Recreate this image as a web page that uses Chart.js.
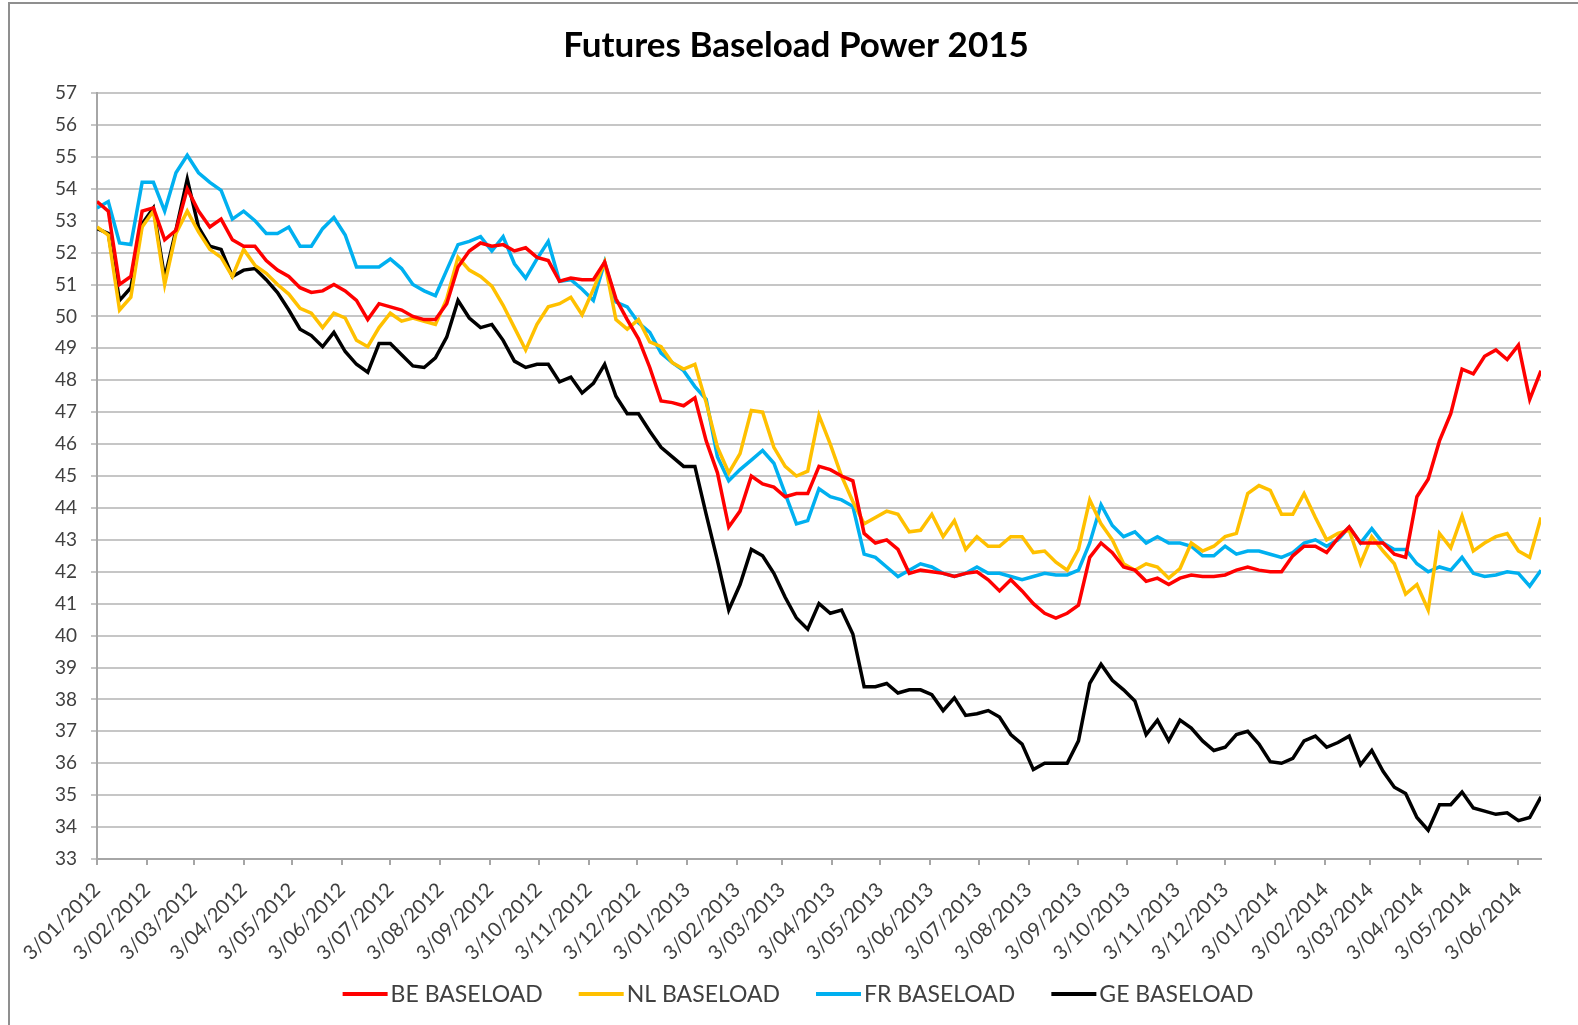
<!DOCTYPE html>
<html>
<head>
<meta charset="utf-8">
<title>Futures Baseload Power 2015</title>
<script src="https://cdn.jsdelivr.net/npm/chart.js@4.4.1/dist/chart.umd.min.js"></script>
<style>
    html, body { margin: 0; padding: 0; background: #ffffff; }
    #wrap { width: 1578px; height: 1025px; }
</style>
</head>
<body>
<div id="wrap"><canvas id="powerChart" width="1578" height="1025"></canvas></div>
<script>
// weekly readings, first one on 3 Jan 2012
const startDate = '2012-01-03';
const stepDays = 7;

const tickLabels = [
    '3/01/2012', '3/02/2012', '3/03/2012', '3/04/2012', '3/05/2012', '3/06/2012',
    '3/07/2012', '3/08/2012', '3/09/2012', '3/10/2012', '3/11/2012', '3/12/2012',
    '3/01/2013', '3/02/2013', '3/03/2013', '3/04/2013', '3/05/2013', '3/06/2013',
    '3/07/2013', '3/08/2013', '3/09/2013', '3/10/2013', '3/11/2013', '3/12/2013',
    '3/01/2014', '3/02/2014', '3/03/2014', '3/04/2014', '3/05/2014', '3/06/2014'
];

const seriesNames = ['BE BASELOAD', 'NL BASELOAD', 'FR BASELOAD', 'GE BASELOAD'];
const seriesColors = ['#ff0000', '#ffc000', '#00b0f0', '#000000'];

const beValues = [
    53.6, 53.3, 51.0, 51.25, 53.3, 53.4, 52.4, 52.7, 54.0, 53.3,
    52.8, 53.05, 52.4, 52.2, 52.2, 51.75, 51.45, 51.25, 50.9, 50.75,
    50.8, 51.0, 50.8, 50.5, 49.9, 50.4, 50.3, 50.2, 50.0, 49.9,
    49.9, 50.4, 51.55, 52.05, 52.3, 52.2, 52.25, 52.05, 52.15, 51.85,
    51.75, 51.1, 51.2, 51.15, 51.15, 51.7, 50.55, 49.9, 49.3, 48.4,
    47.35, 47.3, 47.2, 47.45, 46.1, 45.1, 43.4, 43.9, 45.0, 44.75,
    44.65, 44.35, 44.45, 44.45, 45.3, 45.2, 45.0, 44.85, 43.2, 42.9,
    43.0, 42.7, 41.95, 42.05, 42.0, 41.95, 41.85, 41.95, 42.0, 41.75,
    41.4, 41.75, 41.4, 41.0, 40.7, 40.55, 40.7, 40.95, 42.45, 42.9,
    42.6, 42.15, 42.05, 41.7, 41.8, 41.6, 41.8, 41.9, 41.85, 41.85,
    41.9, 42.05, 42.15, 42.05, 42.0, 42.0, 42.5, 42.8, 42.8, 42.6,
    43.05, 43.4, 42.9, 42.9, 42.9, 42.55, 42.45, 44.35, 44.9, 46.1,
    46.95, 48.35, 48.2, 48.75, 48.95, 48.65, 49.1, 47.4, 48.3
];

const nlValues = [
    52.8, 52.55, 50.2, 50.6, 52.8, 53.3, 51.0, 52.6, 53.3, 52.65,
    52.1, 51.85, 51.25, 52.1, 51.6, 51.35, 51.0, 50.7, 50.25, 50.1,
    49.65, 50.1, 49.95, 49.25, 49.05, 49.65, 50.1, 49.85, 49.95, 49.85,
    49.75, 50.55, 51.85, 51.45, 51.25, 50.95, 50.35, 49.65, 48.95, 49.75,
    50.3, 50.4, 50.6, 50.05, 50.85, 51.7, 49.9, 49.6, 49.9, 49.2,
    49.05, 48.55, 48.35, 48.5, 47.3, 45.9, 45.1, 45.7, 47.05, 47.0,
    45.9, 45.3, 45.0, 45.15, 46.9, 46.0, 45.0, 44.2, 43.5, 43.7,
    43.9, 43.8, 43.25, 43.3, 43.8, 43.1, 43.6, 42.7, 43.1, 42.8,
    42.8, 43.1, 43.1, 42.6, 42.65, 42.3, 42.05, 42.7, 44.25, 43.5,
    43.0, 42.25, 42.05, 42.25, 42.15, 41.8, 42.1, 42.9, 42.65, 42.8,
    43.1, 43.2, 44.45, 44.7, 44.55, 43.8, 43.8, 44.45, 43.7, 43.0,
    43.2, 43.3, 42.25, 43.1, 42.65, 42.25, 41.3, 41.6, 40.8, 43.2,
    42.75, 43.75, 42.65, 42.9, 43.1, 43.2, 42.65, 42.45, 43.7
];

const frValues = [
    53.4, 53.6, 52.3, 52.25, 54.2, 54.2, 53.3, 54.5, 55.05, 54.5,
    54.2, 53.95, 53.05, 53.3, 53.0, 52.6, 52.6, 52.8, 52.2, 52.2,
    52.75, 53.1, 52.55, 51.55, 51.55, 51.55, 51.8, 51.5, 51.0, 50.8,
    50.65, 51.45, 52.25, 52.35, 52.5, 52.05, 52.5, 51.65, 51.2, 51.8,
    52.35, 51.1, 51.15, 50.85, 50.5, 51.7, 50.45, 50.3, 49.8, 49.5,
    48.85, 48.55, 48.3, 47.8, 47.4, 45.6, 44.85, 45.2, 45.5, 45.8,
    45.4, 44.45, 43.5, 43.6, 44.6, 44.35, 44.25, 44.05, 42.55, 42.45,
    42.15, 41.85, 42.05, 42.25, 42.15, 41.95, 41.85, 41.95, 42.15, 41.95,
    41.95, 41.85, 41.75, 41.85, 41.95, 41.9, 41.9, 42.05, 42.9, 44.1,
    43.45, 43.1, 43.25, 42.9, 43.1, 42.9, 42.9, 42.8, 42.5, 42.5,
    42.8, 42.55, 42.65, 42.65, 42.55, 42.45, 42.6, 42.9, 43.0, 42.8,
    43.0, 43.4, 42.9, 43.35, 42.9, 42.7, 42.7, 42.25, 42.0, 42.15,
    42.05, 42.45, 41.95, 41.85, 41.9, 42.0, 41.95, 41.55, 42.05
];

const geValues = [
    52.75, 52.6, 50.5, 50.9, 52.9, 53.4, 51.2, 52.7, 54.3, 52.8,
    52.2, 52.1, 51.25, 51.45, 51.5, 51.15, 50.75, 50.2, 49.6, 49.4,
    49.05, 49.5, 48.9, 48.5, 48.25, 49.15, 49.15, 48.8, 48.45, 48.4,
    48.7, 49.35, 50.5, 49.95, 49.65, 49.75, 49.25, 48.6, 48.4, 48.5,
    48.5, 47.95, 48.1, 47.6, 47.9, 48.5, 47.5, 46.95, 46.95, 46.4,
    45.9, 45.6, 45.3, 45.3, 43.8, 42.35, 40.8, 41.6, 42.7, 42.5,
    41.95, 41.2, 40.55, 40.2, 41.0, 40.7, 40.8, 40.05, 38.4, 38.4,
    38.5, 38.2, 38.3, 38.3, 38.15, 37.65, 38.05, 37.5, 37.55, 37.65,
    37.45, 36.9, 36.6, 35.8, 36.0, 36.0, 36.0, 36.7, 38.5, 39.1,
    38.6, 38.3, 37.95, 36.9, 37.35, 36.7, 37.35, 37.1, 36.7, 36.4,
    36.5, 36.9, 37.0, 36.6, 36.05, 36.0, 36.15, 36.7, 36.85, 36.5,
    36.65, 36.85, 35.95, 36.4, 35.75, 35.25, 35.05, 34.3, 33.9, 34.7,
    34.7, 35.1, 34.6, 34.5, 34.4, 34.45, 34.2, 34.3, 34.95
];

const allValues = [beValues, nlValues, frValues, geValues];

document.addEventListener('DOMContentLoaded', () => {
    const dayMs = 24 * 60 * 60 * 1000;
    const start = new Date(startDate + 'T00:00:00Z').getTime();

    // '3/05/2013' -> days since startDate
    const labelToDay = (label) => {
        const [d, m, y] = label.split('/').map(Number);
        return Math.round((Date.UTC(y, m - 1, d) - start) / dayMs);
    };
    const tickDays = tickLabels.map(labelToDay);
    const lastDay = (beValues.length - 1) * stepDays;

    const datasets = allValues.map((values, k) => ({
        label: seriesNames[k],
        data: values.map((v, i) => ({ x: i * stepDays, y: v })),
        borderColor: seriesColors[k],
        backgroundColor: seriesColors[k],
        borderWidth: 3.5,
        pointRadius: 0,
        tension: 0,
        fill: false
    }));

    const framePlugin = {
        id: 'frame',
        beforeDraw: (chart) => {
            const ctx = chart.ctx;
            ctx.save();
            ctx.fillStyle = '#ffffff';
            ctx.fillRect(0, 0, chart.width, chart.height);
            ctx.strokeStyle = '#8f8f8f';
            ctx.lineWidth = 2;
            ctx.beginPath();
            ctx.moveTo(9, chart.height);
            ctx.lineTo(9, 3);
            ctx.lineTo(chart.width, 3);
            ctx.stroke();
            ctx.restore();
        },
        afterDraw: (chart) => {
            const ctx = chart.ctx;
            ctx.save();
            // title
            ctx.fillStyle = '#000000';
            ctx.font = 'bold 35px Lato';
            ctx.textAlign = 'center';
            ctx.textBaseline = 'alphabetic';
            ctx.fillText('Futures Baseload Power 2015', 796, 57);

            // legend
            const lineLen = 45;
            const gap = 3;
            const spacing = 36;
            const legendY = 994;
            ctx.font = '23px Lato';
            const items = chart.data.datasets.map(ds => ({
                text: ds.label,
                color: ds.borderColor,
                width: lineLen + gap + ctx.measureText(ds.label).width
            }));
            const total = items.reduce((s, it) => s + it.width, 0) + spacing * (items.length - 1);
            let x = 798 - total / 2;
            ctx.textAlign = 'left';
            ctx.textBaseline = 'middle';
            items.forEach(it => {
                ctx.strokeStyle = it.color;
                ctx.lineWidth = 4;
                ctx.beginPath();
                ctx.moveTo(x, legendY);
                ctx.lineTo(x + lineLen, legendY);
                ctx.stroke();
                ctx.fillStyle = '#404040';
                ctx.fillText(it.text, x + lineLen + gap, legendY + 1);
                x += it.width + spacing;
            });
            ctx.restore();
        }
    };

    const ctx = document.getElementById('powerChart').getContext('2d');

    const draw = () => new Chart(ctx, {
        type: 'line',
        data: { datasets: datasets },
        plugins: [framePlugin],
        options: {
            responsive: false,
            animation: false,
            devicePixelRatio: 1,
            layout: { padding: { top: 93, right: 37, bottom: 46, left: 0 } },
            plugins: {
                legend: { display: false },
                title: { display: false },
                tooltip: { enabled: false }
            },
            scales: {
                x: {
                    type: 'linear',
                    min: 0,
                    max: lastDay,
                    afterBuildTicks: (scale) => {
                        scale.ticks = tickDays.map(v => ({ value: v }));
                    },
                    afterFit: (scale) => { scale.height = 120; },
                    border: { display: true, color: '#a6a6a6', width: 2 },
                    grid: { drawOnChartArea: false, drawTicks: true, tickLength: 6, color: '#a6a6a6', lineWidth: 2 },
                    ticks: {
                        autoSkip: false,
                        minRotation: 45,
                        maxRotation: 45,
                        padding: 13,
                        color: '#404040',
                        font: { family: 'Lato', size: 20 },
                        callback: (value, index) => tickLabels[index]
                    }
                },
                y: {
                    min: 33,
                    max: 57,
                    afterFit: (scale) => { scale.width = 97; },
                    border: { display: true, color: '#a6a6a6', width: 2 },
                    grid: { color: '#c6c6c6', lineWidth: 2, tickLength: 6 },
                    ticks: {
                        stepSize: 1,
                        padding: 14,
                        color: '#404040',
                        font: { family: 'Lato', size: 19 }
                    }
                }
            }
        }
    });

    document.fonts.load('20px Lato').then(draw, draw);
});
</script>
</body>
</html>
